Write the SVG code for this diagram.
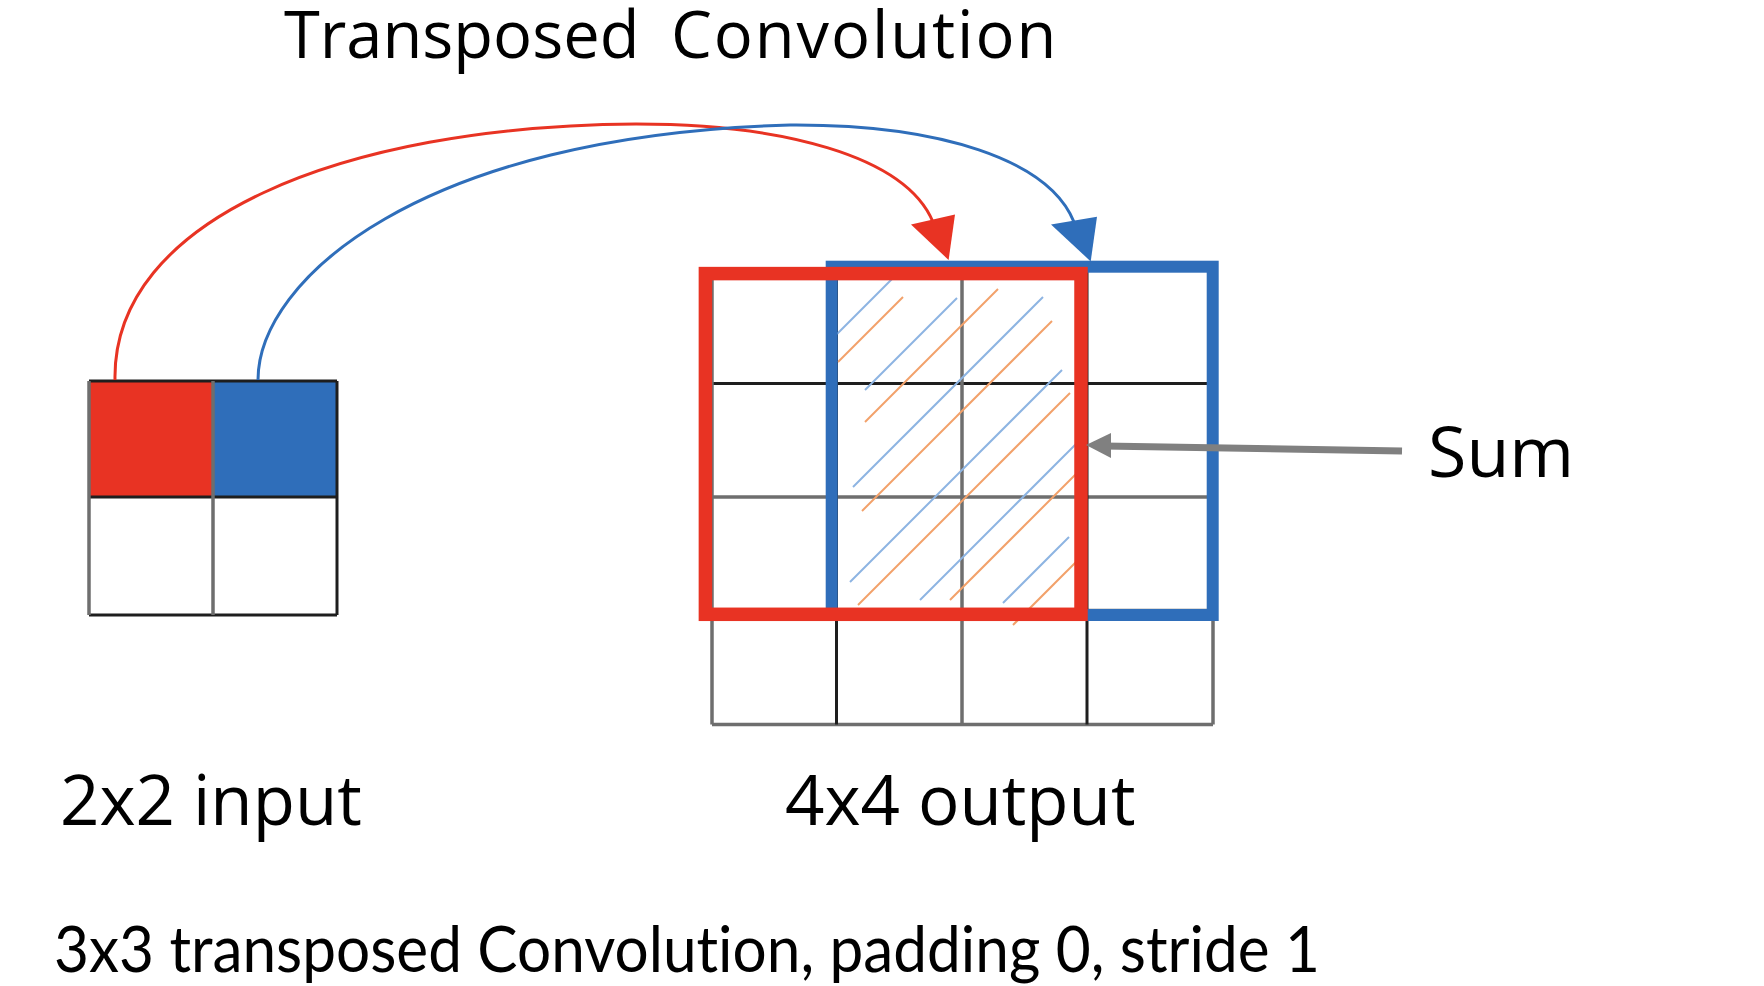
<svg xmlns="http://www.w3.org/2000/svg" width="1764" height="986" viewBox="0 0 1764 986">
<style>
.t{font-family:"Open Sans","Noto Sans",sans-serif;fill:#000}
.dk{stroke:#1e1e1e;stroke-width:3;fill:none}
.gr{stroke:#6e6e6e;stroke-width:3.5;fill:none}
.hb{stroke:#8db4e2;stroke-width:2}
.ho{stroke:#f2a16a;stroke-width:2}
.rw{fill:none;stroke:#e83323;stroke-width:13.5}
.bw{fill:none;stroke:#2f6eba;stroke-width:12}
.cr{fill:none;stroke:#e83323;stroke-width:3}
.cb{fill:none;stroke:#2f6eba;stroke-width:3}
</style>
<rect width="1764" height="986" fill="#fff"/>

<g id="title">
<text class="t" x="284" y="58" font-size="65">Transposed <tspan x="671" letter-spacing="1.9">Convolution</tspan></text>
</g>

<g id="input-grid">
<rect x="89" y="381" width="124" height="116" fill="#e83323"/>
<rect x="213" y="381" width="124" height="116" fill="#2f6eba"/>
<line class="dk" x1="89" y1="381" x2="337" y2="381"/>
<line class="dk" x1="89" y1="497" x2="337" y2="497"/>
<line class="dk" x1="89" y1="615" x2="337" y2="615"/>
<line class="gr" x1="89" y1="381" x2="89" y2="615"/>
<line class="gr" x1="213" y1="381" x2="213" y2="615"/>
<line class="dk" x1="337" y1="381" x2="337" y2="615"/>
</g>

<g id="output-grid">
<line class="dk" x1="712" y1="383.5" x2="1213" y2="383.5"/>
<line class="gr" x1="712" y1="497" x2="1213" y2="497"/>
<line class="gr" x1="712" y1="610.5" x2="1213" y2="610.5"/>
<line class="gr" x1="712" y1="724.5" x2="1213" y2="724.5"/>
<line class="gr" x1="712" y1="270" x2="712" y2="724.5"/>
<line class="dk" x1="836.5" y1="270" x2="836.5" y2="724.5"/>
<line class="gr" x1="962" y1="270" x2="962" y2="724.5"/>
<line class="dk" x1="1087" y1="270" x2="1087" y2="724.5"/>
<line class="gr" x1="1213" y1="270" x2="1213" y2="724.5"/>
</g>

<g id="overlap-hatch">
<line class="hb" x1="837" y1="334" x2="897" y2="274"/>
<line class="ho" x1="838" y1="362" x2="903" y2="297"/>
<line class="hb" x1="865" y1="390" x2="957" y2="298"/>
<line class="ho" x1="865" y1="422" x2="998" y2="289"/>
<line class="hb" x1="853" y1="487" x2="1043" y2="297"/>
<line class="ho" x1="862" y1="511" x2="1052" y2="321"/>
<line class="hb" x1="850" y1="582" x2="1062" y2="370"/>
<line class="ho" x1="858" y1="605" x2="1070" y2="393"/>
<line class="hb" x1="920" y1="600" x2="1076" y2="444"/>
<line class="ho" x1="950" y1="600" x2="1082" y2="468"/>
<line class="hb" x1="1003" y1="603" x2="1069" y2="537"/>
<line class="ho" x1="1013" y1="625" x2="1077" y2="561"/>
</g>

<g id="blue-window">
<rect class="bw" x="831.7" y="266.7" width="381" height="348.3"/>
</g>
<g id="red-window">
<rect class="rw" x="705.4" y="273.6" width="375.6" height="340.7"/>
</g>

<g id="connectors">
<path class="cr" d="M115,380 C112,220 340,126 636,124 C780,124 905,155 933,222"/>
<polygon points="911,224.6 955,214.6 948.6,260" fill="#e83323"/>
<path class="cb" d="M258,380 C258,280 420,135 790,125 C940,124 1049,160 1074,222"/>
<polygon points="1051,224.6 1097,216.8 1090.7,261.4" fill="#2f6eba"/>
<line x1="1402" y1="451" x2="1104" y2="446" stroke="#808080" stroke-width="7"/>
<polygon points="1086,445 1111,433 1111,458" fill="#808080"/>
</g>

<g id="sum-label">
<text class="t" x="1428" y="477" font-size="70">Sum</text>
</g>

<g id="labels">
<text class="t" x="60" y="825" font-size="69">2x2 input</text>
<text class="t" x="785" y="825" font-size="69">4x4 output</text>
<text x="54" y="972" font-family="Lato,'Open Sans',sans-serif" font-size="63" fill="#000" style="font-variant-ligatures:none;font-feature-settings:'liga' 0" textLength="1266" lengthAdjust="spacingAndGlyphs">3x3 transposed Convolution, padding 0, stride 1</text>
</g>
</svg>
